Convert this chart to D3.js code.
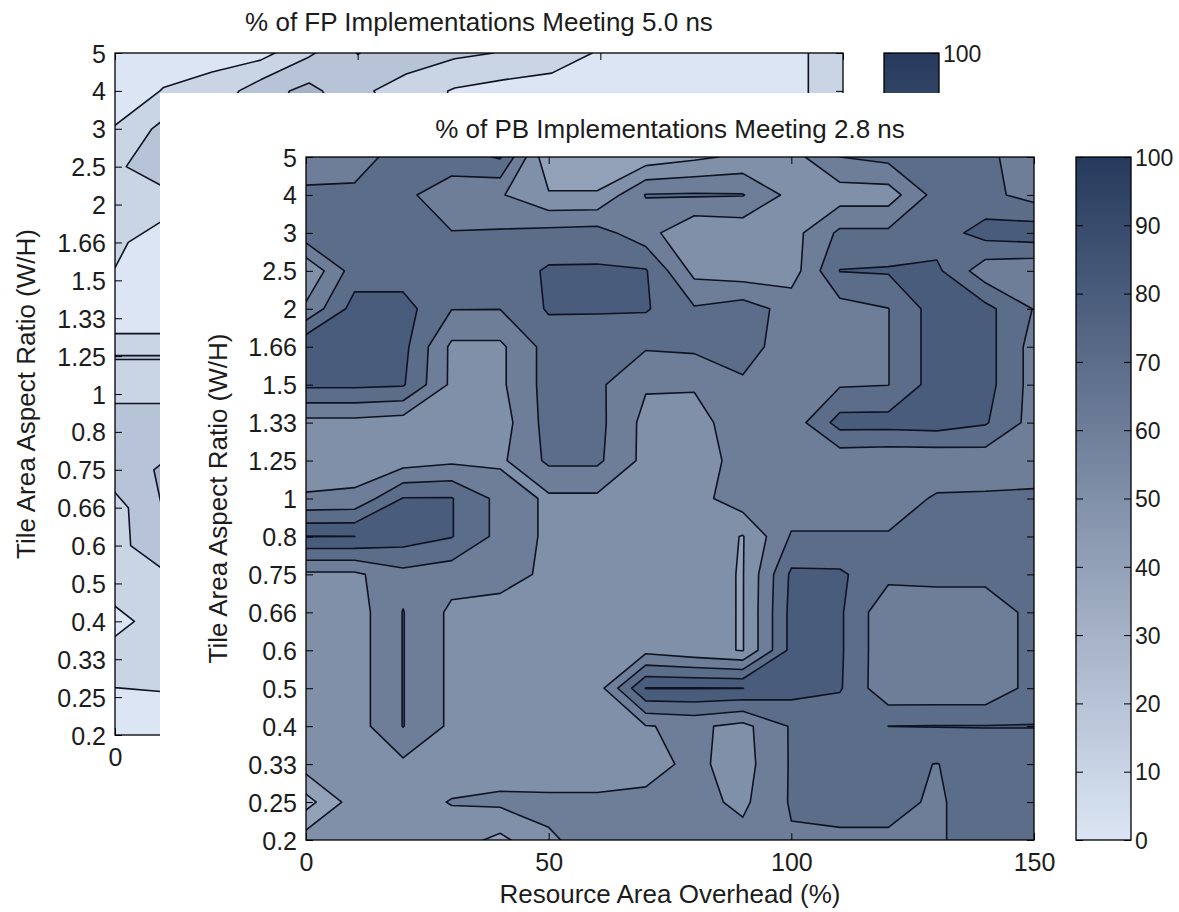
<!DOCTYPE html>
<html>
<head>
<meta charset="utf-8">
<script src="https://cdn.jsdelivr.net/npm/d3@7"></script>
<style>
  html, body { margin: 0; padding: 0; background: #fff; }
  svg { display: block; }
  text { font-family: "Liberation Sans", Arial, Helvetica, sans-serif; fill: #1c1c1c; }
</style>
</head>
<body>
<svg id="chart" width="1179" height="912"></svg>
<script>
// ---- axis categories and ticks ----
const aspectRatios = ["5", "4", "3", "2.5", "2", "1.66", "1.5", "1.33", "1.25", "1",
                      "0.8", "0.75", "0.66", "0.6", "0.5", "0.4", "0.33", "0.25", "0.2"];
const overheads = [0, 10, 20, 30, 40, 50, 60, 70, 80, 90, 100, 110, 120, 130, 140, 150];
const overheadTicks = [0, 50, 100, 150];
const colorTicks = [0, 10, 20, 30, 40, 50, 60, 70, 80, 90, 100];

// contour levels of each panel
const fpLevels = [10, 20, 30, 40, 50, 60, 70, 80, 90];
const pbLevels = [40, 50, 60, 70, 80, 90];

// % of FP implementations meeting 5.0 ns; one row per aspect ratio (5 -> 0.2), one column per overhead
const fpPct = [
  [5, 6, 7, 6.4, 18.5, 30.3, 25, 22, 19.5, 15, 9, 5, 5, 5, 8.4, 14],
  [5, 10.4, 13, 25.6, 33, 22, 16, 9, 6.1, 5.6, 4, 4, 4, 5, 8.4, 14],
  [10.5, 23, 20, 28, 35, 28, 18, 8, 5, 5, 5, 5, 5, 6, 8.4, 14],
  [18.5, 25, 27, 30, 32, 28, 20, 12, 8, 6, 6, 6, 7, 8, 10, 14],
  [15, 15.6, 22, 28, 30, 26, 20, 14, 10, 8, 7, 7, 8, 9, 11, 15],
  [13, 2, 18, 24, 27, 24, 19, 14, 11, 9, 8, 8, 9, 10, 12, 16],
  [8.5, 3, 16, 22, 25, 23, 19, 15, 12, 10, 9, 9, 10, 11, 13, 17],
  [3, 3, 15, 21, 24, 22, 19, 15, 12, 11, 10, 10, 11, 12, 14, 18],
  [20.2, 20.2, 17, 22, 25, 23, 20, 16, 13, 12, 11, 11, 12, 13, 15, 19],
  [18, 18, 22, 26, 28, 26, 22, 18, 15, 13, 12, 12, 13, 14, 16, 20],
  [26, 26, 28, 30, 31, 28, 24, 20, 17, 15, 14, 14, 15, 16, 18, 21],
  [26, 31, 32, 33, 33, 30, 26, 22, 19, 17, 16, 16, 17, 18, 19, 22],
  [16, 30.5, 31, 32, 32, 30, 26, 23, 20, 18, 17, 17, 18, 19, 20, 22],
  [15, 30.5, 30, 30, 30, 28, 25, 22, 20, 18, 17, 17, 18, 19, 20, 22],
  [13, 14, 22, 26, 27, 26, 24, 21, 19, 17, 16, 16, 17, 18, 19, 21],
  [8, 13, 18, 22, 24, 24, 22, 20, 18, 16, 15, 15, 16, 17, 18, 20],
  [13, 13, 16, 19, 21, 21, 20, 18, 16, 15, 14, 14, 15, 16, 17, 19],
  [9, 9.5, 13, 16, 18, 18, 17, 16, 15, 14, 13, 13, 14, 15, 16, 18],
  [6, 6, 10, 13, 15, 15, 15, 14, 13, 12, 12, 12, 13, 14, 15, 17]
];

// % of PB implementations meeting 2.8 ns; same layout
const pbPct = [
  [66, 67, 73, 75, 81, 42, 42, 44, 48, 52, 56, 70, 73, 74, 72, 65],
  [71.4, 71.4, 72, 65, 61, 51, 51, 70.5, 71, 70.5, 57, 55, 55, 74, 73, 66],
  [76.7, 75, 75, 70.3, 71, 73, 74, 64, 51, 53, 56, 72, 72, 75, 84, 86],
  [51, 75, 75, 74, 74, 81.3, 81.3, 80.8, 57, 54, 55, 80.3, 81, 82, 64, 62],
  [62, 84, 84, 70.3, 70.2, 81.1, 81.1, 81, 71, 75, 66, 66, 69.8, 85, 83, 69.5],
  [88.5, 85, 83, 58, 58, 74, 73, 71, 72, 74, 65, 64, 69.8, 85, 84, 66],
  [82, 82, 81, 58, 58, 74, 72, 61, 61, 68.6, 64, 69, 69.8, 85, 84, 66],
  [57, 57, 55, 55, 55, 74, 73, 57, 56, 66, 64, 84, 84, 85, 81, 66],
  [55, 55, 55, 58, 58, 72, 72, 57, 56, 63, 64, 63, 62, 62, 64, 66],
  [61, 62, 80.5, 80.5, 67, 58, 58, 55, 56, 66, 64, 64, 64, 71.4, 71.4, 71.4],
  [90.3, 90.05, 85, 80.5, 67, 58, 56, 55, 56, 49.5, 71, 71, 71, 74, 74, 73],
  [58, 58, 67, 64, 64, 58, 56, 55, 53, 49.5, 81.8, 81.5, 73, 74, 74, 73],
  [55, 55, 70.3, 58, 56, 55, 55, 55, 53, 49.5, 83, 81.5, 62, 62, 62, 74],
  [55, 55, 70.3, 58, 55, 54, 54, 57, 53, 49.5, 83, 81.5, 62, 62, 62, 74],
  [55, 55, 70.3, 58, 55, 54, 55, 90.3, 90.3, 90.1, 84, 81, 62, 62, 62, 74],
  [55, 55, 70.3, 58, 55, 54, 55, 59.5, 62, 57, 71, 72, 80.05, 80.3, 80.3, 80.3],
  [55, 55, 58, 55, 55, 54, 57, 57, 62, 56, 71, 72, 72, 69.8, 74, 74],
  [36, 55, 56, 60.5, 62, 62, 61, 62, 63, 58, 71, 72, 72, 69, 74, 74],
  [55, 55, 55, 55, 47.4, 59, 63, 64, 64, 63, 69, 69, 69, 69, 74, 74]
];

// ---- shared styling ----
const color = d3.scaleLinear().domain([0, 100]).range(["#dbe5f4", "#263a5d"]);
const lineColor = "#0d1322";
const tickFont = 25;
const labelFont = 26;
const cbFont = 23;

const svg = d3.select("#chart");
const defs = svg.append("defs");

const grad = defs.append("linearGradient")
  .attr("id", "cmap").attr("x1", 0).attr("y1", 1).attr("x2", 0).attr("y2", 0);
grad.selectAll("stop").data(colorTicks).join("stop")
  .attr("offset", d => d / 100)
  .attr("stop-color", d => color(d));

function styleAxis(sel, showLabels, fontSize) {
  sel.select(".domain").remove();
  sel.selectAll(".tick line").attr("stroke", "#000").attr("stroke-width", 1);
  sel.selectAll(".tick text")
    .style("font-size", fontSize + "px")
    .attr("fill", "#1c1c1c")
    .style("display", showLabels ? null : "none");
}

// one contour panel: filled bands, contour lines, axes box, ticks and a colorbar
function drawPanel(opt) {
  const { id, left, top, width, height, grid, levels, baseLevel, cbLeft, cbWidth, title, titleY, ylabelX } = opt;
  const right = left + width, bottom = top + height;
  const nx = overheads.length, ny = aspectRatios.length;

  const x = d3.scaleLinear().domain([overheads[0], overheads[nx - 1]]).range([left, right]);
  const y = d3.scalePoint().domain(aspectRatios).range([top, bottom]);
  // d3.contours puts sample k at coordinate k + 0.5
  const gx = d3.scaleLinear().domain([0.5, nx - 0.5]).range([left, right]);
  const gy = d3.scaleLinear().domain([0.5, ny - 0.5]).range([top, bottom]);
  const path = d3.geoPath(d3.geoTransform({
    point(px, py) { this.stream.point(gx(px), gy(py)); }
  }));

  const bands = d3.contours().size([nx, ny]).thresholds(levels)(grid.flat());

  defs.append("clipPath").attr("id", id + "-clip")
    .append("rect").attr("x", left).attr("y", top).attr("width", width).attr("height", height);

  const g = svg.append("g").attr("class", id);
  const plot = g.append("g").attr("clip-path", `url(#${id}-clip)`);
  plot.append("rect")
    .attr("x", left).attr("y", top).attr("width", width).attr("height", height)
    .attr("fill", color(baseLevel));
  plot.selectAll("path.band").data(bands).join("path")
    .attr("class", "band")
    .attr("d", path)
    .attr("fill", d => color(d.value))
    .attr("fill-rule", "evenodd")
    .attr("stroke", lineColor)
    .attr("stroke-width", 1.6)
    .attr("stroke-linejoin", "round");

  // axes: ticks point inwards on all four sides
  g.append("g").attr("transform", `translate(${left},0)`)
    .call(d3.axisLeft(y).tickSize(-7).tickPadding(9))
    .call(s => styleAxis(s, true, tickFont))
    .selectAll(".tick text").attr("dy", "0.36em");
  g.append("g").attr("transform", `translate(${right},0)`)
    .call(d3.axisRight(y).tickSize(-7))
    .call(s => styleAxis(s, false, tickFont));
  g.append("g").attr("transform", `translate(0,${bottom})`)
    .call(d3.axisBottom(x).tickValues(overheadTicks).tickFormat(d3.format("d")).tickSize(-7).tickPadding(13))
    .call(s => styleAxis(s, true, tickFont));
  g.append("g").attr("transform", `translate(0,${top})`)
    .call(d3.axisTop(x).tickValues(overheadTicks).tickSize(-7))
    .call(s => styleAxis(s, false, tickFont));
  g.append("rect")
    .attr("x", left).attr("y", top).attr("width", width).attr("height", height)
    .attr("fill", "none").attr("stroke", "#000").attr("stroke-width", 1.3);

  // colorbar
  const cbRight = cbLeft + cbWidth;
  const c = d3.scaleLinear().domain([0, 100]).range([bottom, top]);
  g.append("rect")
    .attr("x", cbLeft).attr("y", top).attr("width", cbWidth).attr("height", height)
    .attr("fill", "url(#cmap)");
  g.append("g").attr("transform", `translate(${cbLeft},0)`)
    .call(d3.axisLeft(c).tickValues(colorTicks).tickSize(-7))
    .call(s => styleAxis(s, false, tickFont));
  g.append("g").attr("transform", `translate(${cbRight},0)`)
    .call(d3.axisRight(c).tickValues(colorTicks).tickSize(-7).tickPadding(4))
    .call(s => styleAxis(s, true, cbFont))
    .selectAll(".tick text").attr("dy", "0.36em");
  g.append("rect")
    .attr("x", cbLeft).attr("y", top).attr("width", cbWidth).attr("height", height)
    .attr("fill", "none").attr("stroke", "#000").attr("stroke-width", 1.3);

  // titles
  g.append("text")
    .attr("x", (left + right) / 2).attr("y", titleY)
    .attr("text-anchor", "middle").style("font-size", labelFont + "px")
    .text(title);
  g.append("text")
    .attr("transform", `translate(${ylabelX},${(top + bottom) / 2}) rotate(-90)`)
    .attr("text-anchor", "middle").style("font-size", labelFont + "px")
    .text("Tile Area Aspect Ratio (W/H)");
  return g;
}

// back figure: FP implementations
drawPanel({
  id: "fp", left: 115, top: 53, width: 728, height: 682,
  grid: fpPct, levels: fpLevels, baseLevel: 0,
  cbLeft: 884, cbWidth: 55,
  title: "% of FP Implementations Meeting 5.0 ns", titleY: 31, ylabelX: 35
});

// front figure sits on its own white sheet, overlapping the back one
svg.append("rect").attr("x", 160).attr("y", 93).attr("width", 1019).attr("height", 819).attr("fill", "#fff");

const pb = drawPanel({
  id: "pb", left: 306, top: 157, width: 728, height: 683,
  grid: pbPct, levels: pbLevels, baseLevel: 30,
  cbLeft: 1076, cbWidth: 55,
  title: "% of PB Implementations Meeting 2.8 ns", titleY: 138, ylabelX: 227
});
pb.append("text")
  .attr("x", 670).attr("y", 903)
  .attr("text-anchor", "middle").style("font-size", labelFont + "px")
  .text("Resource Area Overhead (%)");
</script>
</body>
</html>
